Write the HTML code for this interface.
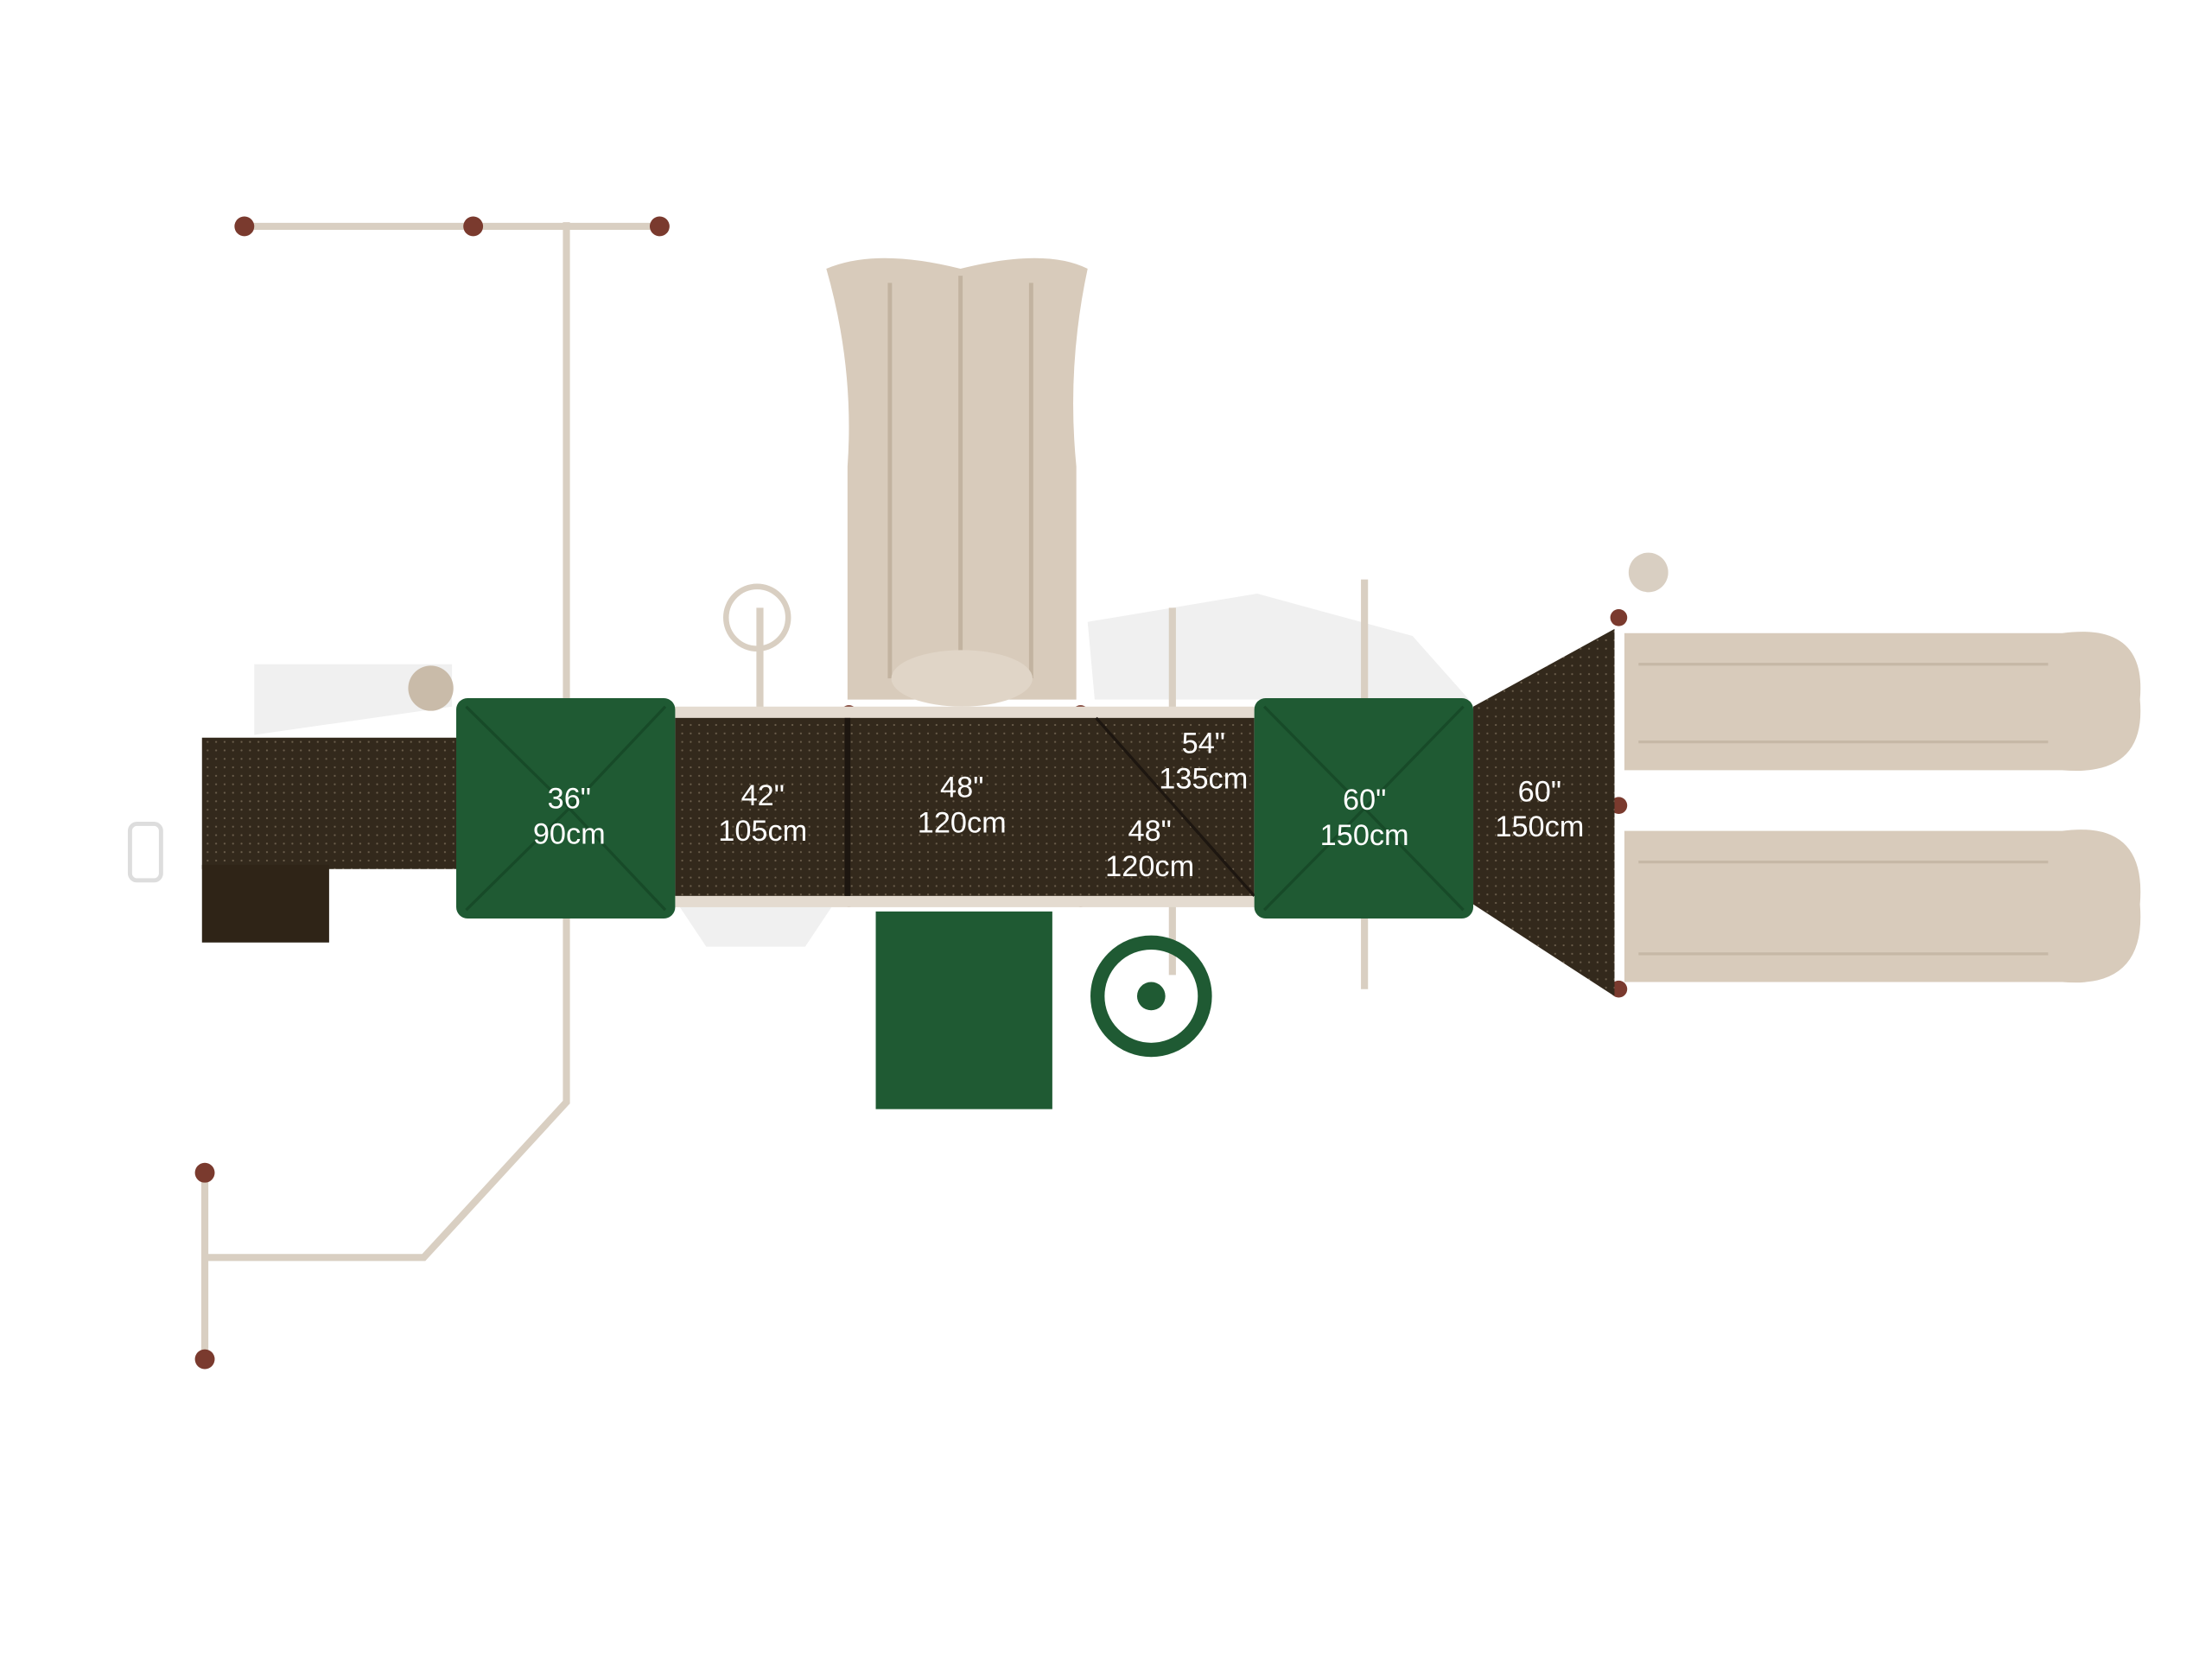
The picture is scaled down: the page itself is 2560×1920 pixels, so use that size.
<!DOCTYPE html>
<html><head><style>html,body{margin:0;padding:0;background:#fff}svg{display:block}</style></head>
<body>
<svg width="2560" height="1920" viewBox="0 0 1566 1174" xmlns="http://www.w3.org/2000/svg" font-family="Liberation Sans, sans-serif">
<defs>
<pattern id="dots" width="6" height="6" patternUnits="userSpaceOnUse"><rect width="6" height="6" fill="#33291c"/><circle cx="3" cy="3" r="0.7" fill="#6b5e4c"/></pattern>
</defs>
<rect width="1566" height="1174" fill="#fff"/>
<path d="M180 470 L320 470 L320 500 L180 520Z" fill="#f0f0f0"/>
<path d="M770 440 L890 420 L1000 450 L1040 495 L775 495Z" fill="#f0f0f0"/>
<path d="M480 640 L590 640 L570 670 L500 670Z" fill="#f0f0f0"/>
<g stroke="#d9cfc2" stroke-width="5" fill="none">
<line x1="173" y1="160" x2="467" y2="160"/>
<line x1="401" y1="157" x2="401" y2="495"/>
<path d="M401 650 L401 780 L300 890 L145 890"/>
<line x1="145" y1="830" x2="145" y2="960"/>
<line x1="830" y1="430" x2="830" y2="510"/>
<line x1="966" y1="410" x2="966" y2="495"/>
<line x1="966" y1="650" x2="966" y2="700"/>
<line x1="830" y1="635" x2="830" y2="690"/>
<line x1="538" y1="430" x2="538" y2="505"/>
</g>
<g fill="#7a3a2e">
<circle cx="173" cy="160" r="7"/><circle cx="335" cy="160" r="7"/><circle cx="467" cy="160" r="7"/>
<circle cx="145" cy="830" r="7"/><circle cx="145" cy="962" r="7"/>
<circle cx="601" cy="505" r="6"/><circle cx="765" cy="505" r="6"/><circle cx="601" cy="636" r="6"/><circle cx="765" cy="636" r="6"/>
<circle cx="1146" cy="437" r="6"/><circle cx="1146" cy="570" r="6"/><circle cx="1146" cy="700" r="6"/>
</g>
<circle cx="305" cy="487" r="16" fill="#c9bba9"/>
<circle cx="536" cy="437" r="22" fill="none" stroke="#d9cfc2" stroke-width="4"/>
<circle cx="1167" cy="405" r="14" fill="#d9cfc2"/>
<rect x="92" y="583" width="22" height="40" rx="5" fill="none" stroke="#ddd" stroke-width="3"/>
<path d="M585 190 Q620 175 680 190 Q740 175 770 190 Q755 260 762 330 L762 495 L600 495 L600 330 Q605 260 585 190Z" fill="#d8cbbb"/>
<g stroke="#c2b3a0" stroke-width="3"><line x1="630" y1="200" x2="630" y2="480"/><line x1="680" y1="195" x2="680" y2="480"/><line x1="730" y1="200" x2="730" y2="480"/></g>
<ellipse cx="681" cy="480" rx="50" ry="20" fill="#e0d5c7"/>
<path d="M1150 448 L1460 448 Q1520 440 1515 495 Q1520 550 1460 545 L1150 545Z" fill="#d8cbbb"/>
<path d="M1150 588 L1460 588 Q1520 580 1515 640 Q1520 700 1460 695 L1150 695Z" fill="#d8cbbb"/>
<g stroke="#c6b8a6" stroke-width="2"><line x1="1160" y1="470" x2="1450" y2="470"/><line x1="1160" y1="525" x2="1450" y2="525"/><line x1="1160" y1="610" x2="1450" y2="610"/><line x1="1160" y1="675" x2="1450" y2="675"/></g>
<rect x="143" y="522" width="182" height="93" fill="url(#dots)"/>
<rect x="143" y="612" width="90" height="55" fill="#2f2417"/>
<rect x="478" y="500" width="410" height="10" fill="#e4dbd0"/>
<rect x="478" y="632" width="410" height="10" fill="#e4dbd0"/>
<rect x="478" y="508" width="410" height="126" fill="url(#dots)"/>
<line x1="600" y1="508" x2="600" y2="634" stroke="#1d1610" stroke-width="4"/>
<line x1="776" y1="508" x2="888" y2="634" stroke="#1d1610" stroke-width="2"/>
<path d="M1043 500 L1143 445 L1143 705 L1043 640Z" fill="url(#dots)"/>
<rect x="323" y="494" width="155" height="156" rx="8" fill="#1f5a33"/>
<path d="M330 500 L403 572 L471 500 M330 644 L403 572 L471 644" stroke="#174a28" stroke-width="2" fill="none"/>
<rect x="888" y="494" width="155" height="156" rx="8" fill="#1f5a33"/>
<path d="M895 500 L966 572 L1036 500 M895 644 L966 572 L1036 644" stroke="#174a28" stroke-width="2" fill="none"/>
<path d="M620 645 L745 645 L745 785 L620 785Z" fill="#1f5a33"/>
<circle cx="815" cy="705" r="38" fill="none" stroke="#1f5a33" stroke-width="10"/>
<circle cx="815" cy="705" r="10" fill="#1f5a33"/>
<g fill="#fff" font-size="21" text-anchor="middle">
<text x="403" y="572">36"</text><text x="403" y="597">90cm</text>
<text x="540" y="570">42"</text><text x="540" y="595">105cm</text>
<text x="681" y="564">48"</text><text x="681" y="589">120cm</text>
<text x="852" y="533">54"</text><text x="852" y="558">135cm</text>
<text x="814" y="595">48"</text><text x="814" y="620">120cm</text>
<text x="966" y="573">60"</text><text x="966" y="598">150cm</text>
<text x="1090" y="567">60"</text><text x="1090" y="592">150cm</text>
</g>
</svg>
</body></html>
